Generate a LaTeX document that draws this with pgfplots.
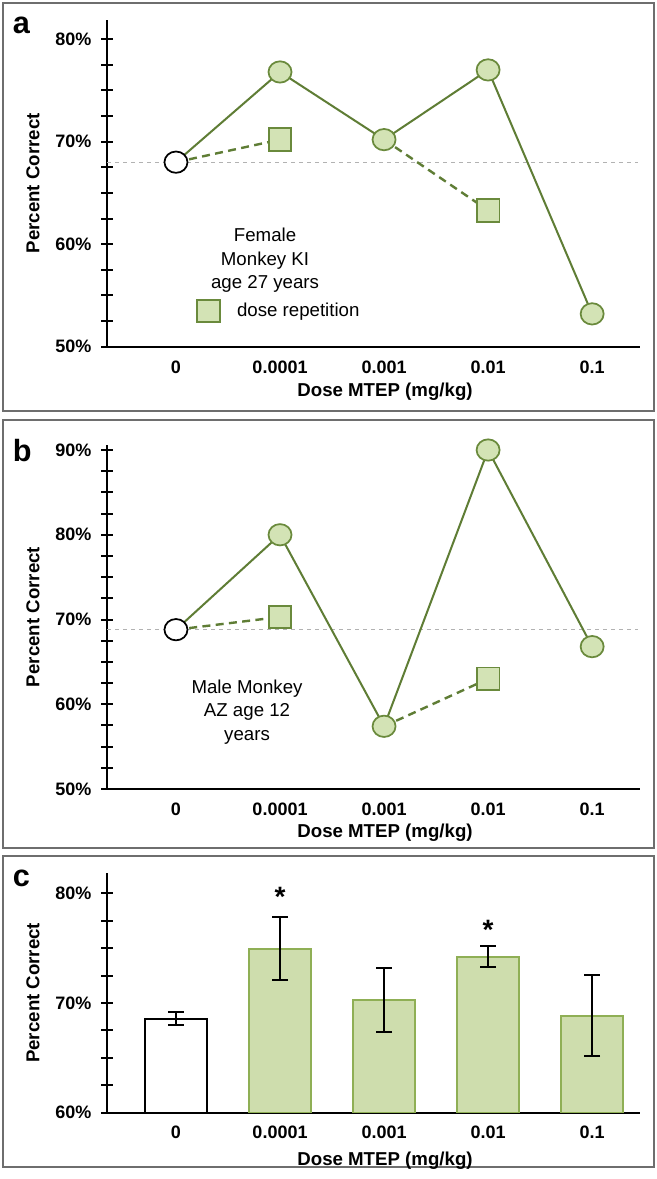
\documentclass[border=0pt]{standalone}
\usepackage{fontspec}
\setmainfont{Liberation Sans}
\usepackage{pgfplots}
\pgfplotsset{compat=1.18}
\definecolor{gfill}{HTML}{D3E3B5}
\definecolor{gedge}{HTML}{6A8A3C}
\definecolor{gline}{HTML}{5F7D35}
\definecolor{bfill}{HTML}{CEDDAD}
\definecolor{bedge}{HTML}{8FAF55}
\definecolor{framec}{HTML}{6E6E6E}

\pgfplotsset{
  panel/.style={
    scale only axis, width=399.75pt,
    xmin=-0.663, xmax=4.46,
    axis x line=bottom, axis y line=left,
    axis line style={-, line width=1.5pt, black},
    xtick={0,1,2,3,4}, xticklabels={0,0.0001,0.001,0.01,0.1},
    x tick style={draw=none},
    y tick style={line width=1.5pt, black},
    tick align=center, major tick length=8.5pt, minor tick length=8.5pt,
    minor y tick num=3,
    /pgf/number format/assume math mode=true,
    ticklabel style={font=\fontsize{13.5}{16}\selectfont\bfseries},
    yticklabel={\pgfmathprintnumber{\tick}\%},
    yticklabel style={anchor=east, xshift=-4pt},
    xlabel={Dose MTEP (mg/kg)},
    ylabel={Percent Correct},
    label style={font=\fontsize{14}{16}\selectfont\bfseries},
    ylabel style={at={(axis description cs:-0.139,0.5)}, anchor=center},
    clip=false,
  },
  solidline/.style={gline, line width=1.5pt, mark=none, forget plot},
  dashline/.style={gline, line width=1.8pt, dash pattern=on 6pt off 4pt, mark=none, forget plot},
  refline/.style={gray!60, dashed, line width=0.6pt, mark=none, forget plot},
  gcirc/.style={only marks, mark=*, mark size=8pt, mark options={fill=gfill, draw=gedge, line width=1.3pt, xscale=1.08}, forget plot},
  wcirc/.style={only marks, mark=*, mark size=8pt, mark options={fill=white, draw=black, line width=1.3pt, xscale=1.08}, forget plot},
  gsq/.style={only marks, mark=square*, mark size=8.5pt, mark options={fill=gfill, draw=gedge, line width=1.3pt}},
}

\begin{document}
\begin{tikzpicture}
% page and panel frames
\path[fill=white] (0pt,0pt) rectangle (492.75pt,-884.25pt);
\draw[framec, line width=1pt] (2.25pt,-2.25pt) rectangle (490.5pt,-308.25pt);
\draw[framec, line width=1pt] (2.25pt,-315pt) rectangle (490.5pt,-636pt);
\draw[framec, line width=1pt] (2.25pt,-642pt) rectangle (490.5pt,-875.25pt);
\node[anchor=base west, inner sep=0pt, font=\fontsize{23}{26}\selectfont\bfseries] at (9.5pt,-25pt) {a};
\node[anchor=base west, inner sep=0pt, font=\fontsize{23}{26}\selectfont\bfseries] at (9.5pt,-346.3pt) {b};
\node[anchor=base west, inner sep=0pt, font=\fontsize{23}{26}\selectfont\bfseries] at (9.5pt,-664.5pt) {c};

% ---------- panel a ----------
\begin{axis}[panel, at={(80.25pt,-260pt)}, anchor=south west,
  height=245pt, ymin=50, ymax=81.87, ytick={50,60,70,80},
  xticklabel style={anchor=center, yshift=-11.25pt},
  xlabel style={at={(axis description cs:0.5216,0)}, anchor=center, yshift=-33.5pt},
  legend style={at={(axis cs:0.2,53.48)}, anchor=west, draw=none, fill=none,
    inner sep=0pt, font=\fontsize{14}{16}\selectfont},
  legend cell align=left]
\addplot[refline] coordinates {(-0.663,68) (4.44,68)};
\addplot[dashline] coordinates {(0,68) (1,70.2)};
\addplot[dashline] coordinates {(2,70.2) (3,63.3)};
\addplot[solidline] coordinates {(0,68) (1,76.8) (2,70.2) (3,77.0) (4,53.2)};
\addplot[gcirc] coordinates {(1,76.8) (2,70.2) (3,77.0) (4,53.2)};
\addplot[wcirc] coordinates {(0,68)};
\addplot[gsq] coordinates {(1,70.2) (3,63.3)};
\addlegendentry{\hspace{11pt}dose repetition}
\node[align=center, font=\fontsize{14}{17.6}\selectfont] at (axis cs:0.856,58.4) {Female\\Monkey KI\\age 27 years};
\end{axis}

% ---------- panel b ----------
\begin{axis}[panel, at={(80.25pt,-591.75pt)}, anchor=south west,
  height=258pt, ymin=50, ymax=90.59, ytick={50,60,70,80,90},
  xticklabel style={anchor=center, yshift=-11.25pt},
  xlabel style={at={(axis description cs:0.5216,0)}, anchor=center, yshift=-33pt}]
\addplot[refline] coordinates {(-0.663,68.8) (4.44,68.8)};
\addplot[dashline] coordinates {(0,68.8) (1,70.3)};
\addplot[dashline] coordinates {(2,57.4) (3,63.0)};
\addplot[solidline] coordinates {(0,68.8) (1,80.0) (2,57.4) (3,90.0) (4,66.8)};
\addplot[gcirc] coordinates {(1,80.0) (2,57.4) (3,90.0) (4,66.8)};
\addplot[wcirc] coordinates {(0,68.8)};
\addplot[gsq] coordinates {(1,70.3) (3,63.0)};
\node[align=center, font=\fontsize{14}{17.6}\selectfont] at (axis cs:0.683,59.09) {Male Monkey\\AZ age 12\\years};
\end{axis}

% ---------- panel c ----------
\begin{axis}[panel, at={(80.25pt,-834.5pt)}, anchor=south west,
  height=179.8pt, ymin=60, ymax=81.85, ytick={60,70,80},
  xticklabel style={anchor=center, yshift=-6pt},
  xlabel style={at={(axis description cs:0.5216,0)}, anchor=center, yshift=-36pt},
  clip=true, clip mode=individual,
  ybar, bar width=46.5pt, bar shift=0pt]
\addplot[fill=white, draw=black, line width=1.5pt,
  error bars/.cd, y dir=both, y explicit,
  error bar style={line width=1.5pt, black},
  error mark options={rotate=90, mark size=6pt, line width=1.5pt, black}]
  table[x=x, y=y, y error=e] {
x y e
0 68.58 0.58
};
\addplot[fill=bfill, draw=bedge, line width=1.5pt,
  error bars/.cd, y dir=both, y explicit,
  error bar style={line width=1.5pt, black},
  error mark options={rotate=90, mark size=6pt, line width=1.5pt, black}]
  table[x=x, y=y, y error=e] {
x y e
1 74.95 2.89
2 70.25 2.90
3 74.22 0.95
4 68.85 3.68
};
\node[anchor=base, font=\fontsize{21}{22}\selectfont\bfseries] at (axis cs:1,78.8) {*};
\node[anchor=base, font=\fontsize{21}{22}\selectfont\bfseries] at (axis cs:3,75.75) {*};
\end{axis}
\end{tikzpicture}
\end{document}
